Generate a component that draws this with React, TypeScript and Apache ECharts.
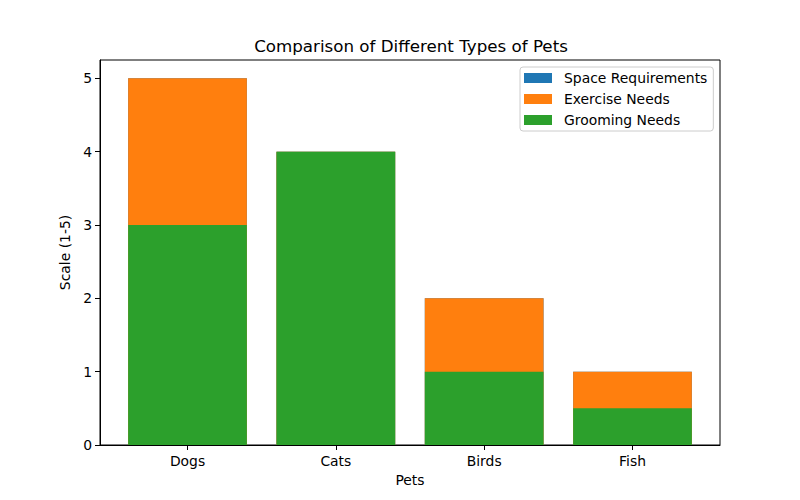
import React, { useEffect, useRef } from "react";
import * as echarts from "echarts";

const categories = ["Dogs", "Cats", "Birds", "Fish"];
const spaceRequirements = [5, 4, 2, 1];
const exerciseNeeds = [5, 4, 2, 1];
const groomingNeeds = [3, 4, 1, 0.5];
const yTicks = [0, 1, 2, 3, 4, 5];

const FONT = "DejaVu Sans";

export default function App() {
  const ref = useRef<HTMLDivElement>(null);
  useEffect(() => {
    if (!ref.current) return;
    const chart = echarts.init(ref.current, null, { renderer: "svg" });
    const toData = (arr: number[]) => arr.map((v, i) => [i, v]);
    const mkSeries = (name: string, arr: number[], color: string) => ({
      name,
      type: "bar",
      data: toData(arr),
      barWidth: 118.7,
      barGap: "-100%",
      itemStyle: { color },
    });
    chart.setOption({
      animation: false,
      textStyle: { fontFamily: FONT },
      title: {
        text: "Comparison of Different Types of Pets",
        left: 406,
        top: 32,
        textAlign: "center",
        textStyle: { fontFamily: FONT, fontSize: 16.7, fontWeight: "normal", color: "#000" },
      },
      grid: {
        left: 100,
        right: 80,
        top: 60,
        bottom: 55,
        show: true,
        borderColor: "#000",
        borderWidth: 1,
        containLabel: false,
      },
      legend: {
        orient: "vertical",
        left: 520,
        top: 67,
        itemWidth: 28,
        itemHeight: 10,
        itemGap: 7,
        icon: "rect",
        padding: [4, 6, 4, 4],
        borderColor: "#cccccc",
        borderWidth: 1,
        borderRadius: 3,
        data: ["Space Requirements", "Exercise Needs", "Grooming Needs"],
        textStyle: { fontFamily: FONT, fontSize: 13.9, color: "#000", padding: [0, 0, 0, 7] },
      },
      xAxis: {
        type: "value",
        min: -0.59,
        max: 3.59,
        name: "Pets",
        nameLocation: "middle",
        nameGap: 28,
        nameTextStyle: { fontFamily: FONT, fontSize: 13.9, color: "#000" },
        splitLine: { show: false },
        axisLine: { show: true, onZero: false, lineStyle: { color: "#000" } },
        axisTick: { show: true, customValues: [0, 1, 2, 3], length: 5, lineStyle: { color: "#000" } },
        axisLabel: {
          customValues: [0, 1, 2, 3],
          formatter: (v: number) => categories[Math.round(v)] ?? "",
          fontFamily: FONT,
          fontSize: 13.9,
          color: "#000",
          margin: 9,
        },
      },
      yAxis: {
        type: "value",
        min: 0,
        max: 5.25,
        name: "Scale (1-5)",
        nameLocation: "middle",
        nameGap: 20,
        nameTextStyle: { fontFamily: FONT, fontSize: 13.9, color: "#000" },
        splitLine: { show: false },
        axisLine: { show: true, onZero: false, lineStyle: { color: "#000" } },
        axisTick: { show: true, customValues: yTicks, length: 5, lineStyle: { color: "#000" } },
        axisLabel: {
          customValues: yTicks,
          fontFamily: FONT,
          fontSize: 13.9,
          color: "#000",
          margin: 8,
        },
      },
      series: [
        mkSeries("Space Requirements", spaceRequirements, "#1f77b4"),
        mkSeries("Exercise Needs", exerciseNeeds, "#ff7f0e"),
        mkSeries("Grooming Needs", groomingNeeds, "#2ca02c"),
      ],
    });
    return () => chart.dispose();
  }, []);
  return <div ref={ref} style={{ width: 800, height: 500, position: "absolute", left: 0, top: 0 }} />;
}
